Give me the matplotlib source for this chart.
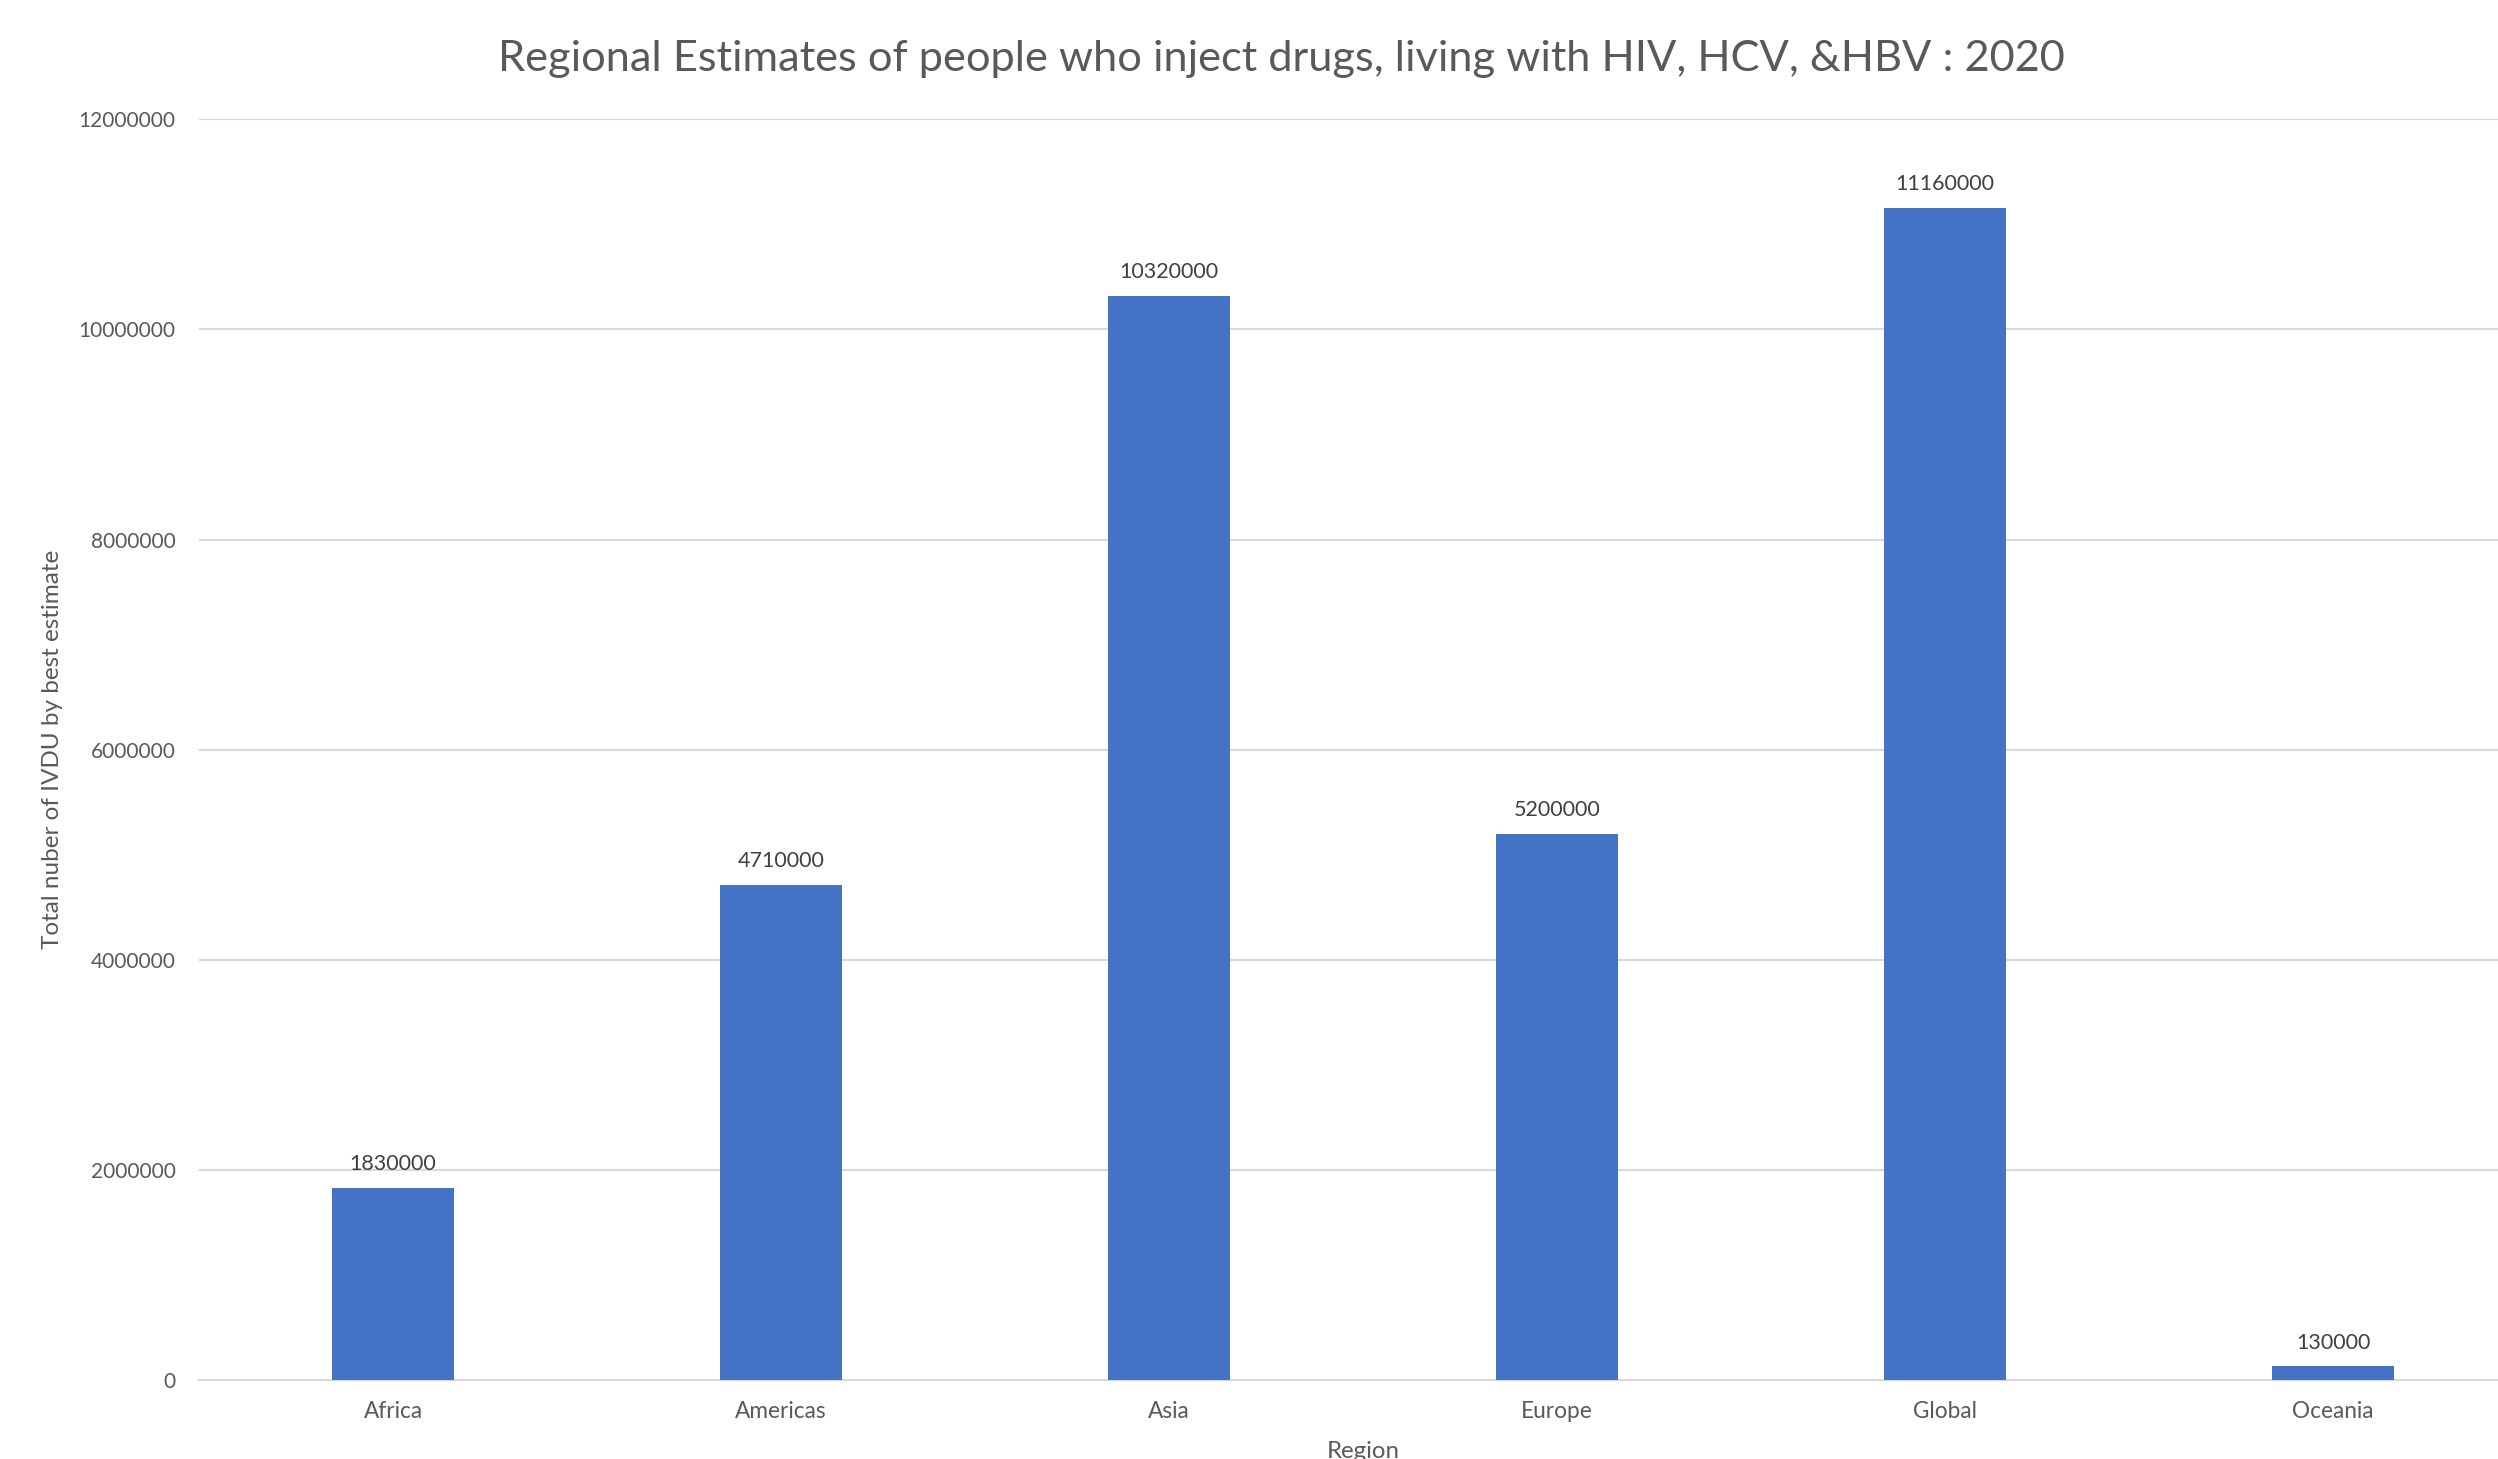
import matplotlib
matplotlib.use('Agg')
import matplotlib.pyplot as plt

regions = ['Africa', 'Americas', 'Asia', 'Europe', 'Global', 'Oceania']
estimates = [1830000, 4710000, 10320000, 5200000, 11160000, 130000]
yticks = [0, 2000000, 4000000, 6000000, 8000000, 10000000, 12000000]

plt.rcParams['font.family'] = ['Lato', 'DejaVu Sans']

fig = plt.figure(figsize=(24.98, 14.59), dpi=100)
ax = fig.add_axes([0.0797, 0.0541, 0.932, 0.8641])

bars = ax.bar(range(len(regions)), estimates, width=0.313, color='#4472C4', zorder=3)
ax.bar_label(bars, labels=[str(v) for v in estimates], padding=10, fontsize=15.5, color='#404040')

ax.set_xlim(-0.5, len(regions) - 0.5)
ax.set_ylim(0, 12000000)
ax.set_yticks(yticks)
ax.set_yticklabels([str(v) for v in yticks])
ax.set_xticks(range(len(regions)))
ax.set_xticklabels(regions)
ax.tick_params(axis='both', length=0, labelsize=15, colors='#595959')
ax.tick_params(axis='x', labelsize=16.3, pad=15)
ax.tick_params(axis='y', pad=17)

ax.grid(axis='y', color='#d9d9d9', linewidth=1.5, zorder=0)
for s in ['top', 'right', 'left']:
    ax.spines[s].set_visible(False)
ax.spines['bottom'].set_color('#d9d9d9')
ax.spines['bottom'].set_linewidth(1.5)

ax.set_ylabel('Total nuber of IVDU by best estimate', fontsize=17.5, color='#595959', labelpad=11)
ax.set_xlabel('Region', fontsize=17.3, color='#595959', labelpad=14)

fig.text(0.513, 1 - 59 / 1459, 'Regional Estimates of people who inject drugs, living with HIV, HCV, &HBV : 2020',
         ha='center', va='center', fontsize=31.2, color='#595959')

fig.savefig('out.png', dpi=100)
